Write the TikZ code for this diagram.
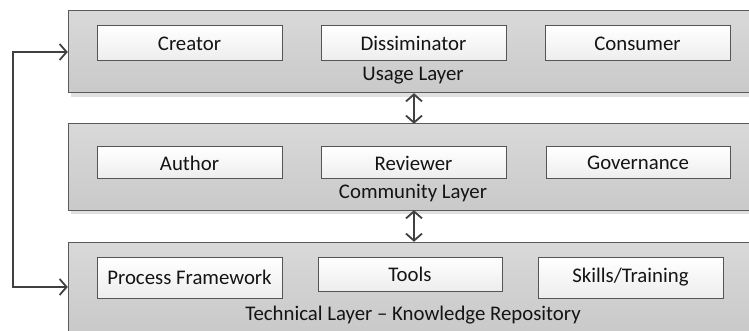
\documentclass[tikz,border=0pt]{standalone}
\usepackage{fontspec}
\setmainfont{Carlito}
\usetikzlibrary{arrows.meta,shadows}
\definecolor{layerborder}{HTML}{5A5A5A}
\definecolor{boxborder}{HTML}{555555}
\definecolor{arrowcol}{HTML}{404040}
\definecolor{txt}{HTML}{141414}
\tikzset{
  layer/.style={draw=layerborder, line width=1pt, top color=black!15, bottom color=black!21,
    drop shadow={shadow xshift=3pt, shadow yshift=-4pt, fill=black!12, opacity=1}},
  itembox/.style={draw=boxborder, line width=1pt, top color=white, bottom color=black!7},
  lbl/.style={text=txt, font=\fontsize{20.8}{24}\selectfont, inner sep=0pt},
  arr/.style={draw=arrowcol, line width=1.8pt, {Straight Barb[length=7pt,width=16pt,line width=1.8pt]}-{Straight Barb[length=7pt,width=16pt,line width=1.8pt]}},
}
\begin{document}
\begin{tikzpicture}[x=1pt,y=-1pt]
\useasboundingbox (0,0) rectangle (749,331);
\clip (0,0) rectangle (749,331);
% layers
\path[layer] (68,11) rectangle (760,93);
\node[inner sep=0pt, minimum width=692pt, minimum height=82pt] (usage) at (414,52) {};
\path[layer] (68,124) rectangle (760,210);
\node[inner sep=0pt, minimum width=692pt, minimum height=86pt] (community) at (414,167) {};
\path[layer] (68,242) rectangle (760,332);
\node[inner sep=0pt, minimum width=692pt, minimum height=90pt] (technical) at (414,287) {};
% layer labels
\node[lbl] (usagelbl) at (413,76) {Usage Layer};
\node[lbl] (commlbl) at (413,193) {Community Layer};
\node[lbl] (techlbl) at (413,315) {Technical Layer – Knowledge Repository};
% items
\path[itembox] (97,26) rectangle (282,61);
\node[lbl] (creator) at (189.5,43.5) {Creator};
\path[itembox] (321,26) rectangle (506,61);
\node[lbl] (diss) at (413.5,43.5) {Dissiminator};
\path[itembox] (545,26) rectangle (730,61);
\node[lbl] (consumer) at (637.5,43.5) {Consumer};
\path[itembox] (97,147) rectangle (282,179);
\node[lbl] (author) at (189.5,163) {Author};
\path[itembox] (321,147) rectangle (506,179);
\node[lbl] (reviewer) at (413.5,163) {Reviewer};
\path[itembox] (546,147) rectangle (730,179);
\node[lbl] (governance) at (638,163) {Governance};
\path[itembox] (97,257) rectangle (282,298);
\node[lbl] (process) at (189.5,277.5) {Process Framework};
\path[itembox] (318,257) rectangle (502,291);
\node[lbl] (tools) at (410,274) {Tools};
\path[itembox] (538,257) rectangle (723,298);
\node[lbl] (skills) at (630.5,277.5) {Skills/Training};
% connectors
\draw[arr] (usage.south) -- (community.north);
\draw[arr] (community.south) -- (technical.north);
\draw[arr] (usage.west) -- ++(-55,0) |- (technical.west);
\end{tikzpicture}
\end{document}
